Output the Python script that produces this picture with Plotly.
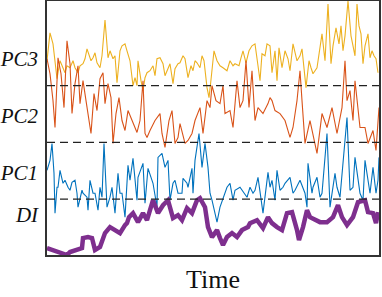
import plotly.graph_objects as go

# ---- data (time units, signal level) ----
pc3_t = [0,3,6,10,13,16,18,20,23,26,28,31,33,36,38,40,42,44,46,48,50,53,55,58,61,63,66,68,70,73,75,78,80,83,86,88,90,91,94,96,98,100,103,106,108,110,113,116,118,120,123,126,128,131,133,136,138,141,144,146,148,150,153,155,157,160,162,164,167,170,173,176,180,183,186,188,192,194,196,199,202,205,208,211,213,215,218,220,223,225,228,230,232,235,238,241,243,246,250,253,255,259,262,264,266,270,275,278,281,284,286,289,292,294,296,298,301,304,306,308,310,312,314,316,318,321,323,325,327,329,331]
pc3_v = [195,223,212,177,195,188,183,190,188,195,188,183,190,192,197,207,200,195,198,203,193,188,200,236,198,205,197,200,173,205,210,212,205,195,170,178,170,195,175,165,178,183,185,190,180,197,198,192,180,185,192,172,187,192,193,200,197,178,190,185,195,193,188,200,195,168,158,176,205,195,190,188,185,195,190,192,190,198,205,193,205,210,212,190,175,202,200,212,210,183,205,175,208,188,205,197,185,212,195,200,207,168,195,188,182,188,222,195,252,192,210,228,212,230,205,220,255,220,208,200,252,230,222,192,210,222,198,205,200,197,183]

pc2_t = [0,3,6,8,11,14,17,20,23,25,28,31,33,36,39,41,44,47,50,53,56,58,61,64,66,69,72,75,78,81,85,90,93,96,98,100,103,108,113,115,118,122,125,128,131,133,138,141,145,148,153,156,160,163,165,169,173,176,178,183,186,190,193,196,199,202,205,208,211,216,221,223,225,228,233,238,243,246,250,253,255,258,263,270,275,280,285,290,295,298,300,303,306,308,313,318,321,326,329,332]
pc2_v = [197,182,155,128,198,182,148,215,192,142,172,190,152,175,155,142,122,162,145,177,183,152,172,158,112,142,158,135,125,145,135,123,135,175,122,118,125,135,142,122,108,135,145,112,118,132,112,115,122,135,148,122,155,148,170,155,152,170,142,145,128,175,148,155,195,148,185,135,148,142,152,158,155,145,142,135,118,128,155,185,155,112,135,102,142,128,148,122,148,195,155,165,135,175,128,128,112,125,105,148]

pc1_t = [0,3,5,7,8,10,11,13,16,18,21,23,25,28,30,31,35,36,40,41,43,46,48,51,53,55,57,60,63,65,68,71,73,75,78,81,83,86,90,91,96,98,101,106,110,111,115,118,121,123,126,128,131,135,136,140,141,145,146,148,152,155,158,161,163,165,170,173,180,183,186,188,193,200,203,206,208,211,216,221,223,225,228,230,233,236,238,243,246,248,253,258,260,261,265,266,270,273,275,280,283,288,290,293,300,303,306,308,313,316,318,323,326,329,331,332]
pc1_v = [85,95,112,82,42,68,68,85,72,75,68,65,73,75,62,48,65,62,58,45,75,62,62,45,68,58,112,48,58,68,42,82,62,62,38,90,75,97,55,78,92,52,87,72,48,98,102,88,95,55,72,75,62,62,77,72,68,87,62,95,122,88,112,88,62,55,33,48,68,72,55,65,68,58,68,62,65,78,42,83,68,75,55,85,65,68,72,78,62,65,75,62,48,92,62,68,78,58,62,122,48,82,68,58,138,65,68,98,62,55,95,62,88,62,75,98]

di_t = [0,6,13,20,23,30,35,36,41,45,48,53,58,63,68,73,78,80,82,86,91,96,100,106,111,116,121,126,131,135,140,145,150,153,158,161,165,170,173,176,180,185,190,195,201,203,210,216,221,225,230,235,240,245,250,252,256,260,263,268,273,280,286,291,295,300,306,311,318,321,326,329,331]
di_v = [7,5,2,0,3,5,7,17,18,17,5,8,22,28,25,22,30,32,38,42,33,42,35,55,42,50,55,37,40,35,47,42,55,57,48,28,18,25,17,10,18,22,18,25,28,32,35,27,38,32,28,25,42,43,25,15,28,45,38,35,33,33,38,50,38,30,38,53,55,43,42,32,43]

thresholds = [170, 113, 56]
tick_vals = [197, 140, 83, 41]
tick_text = ["PC3", "PC2", "PC1", "DI"]

fig = go.Figure()
fig.add_trace(go.Scatter(x=pc3_t, y=pc3_v, mode="lines",
                         line=dict(color="#EDB120", width=1.1), name="PC3"))
fig.add_trace(go.Scatter(x=pc2_t, y=pc2_v, mode="lines",
                         line=dict(color="#D95319", width=1.1), name="PC2"))
fig.add_trace(go.Scatter(x=pc1_t, y=pc1_v, mode="lines",
                         line=dict(color="#0072BD", width=1.1), name="PC1"))
for th in thresholds:
    fig.add_hline(y=th, line=dict(color="#222222", width=1.2, dash="8px,5px"),
                  layer="above")
fig.add_trace(go.Scatter(x=di_t, y=di_v, mode="lines",
                         line=dict(color="#7E2F8E", width=4.5), name="DI"))

fig.update_layout(
    width=382, height=297,
    margin=dict(l=47, r=3, t=1, b=42),
    paper_bgcolor="white", plot_bgcolor="white",
    showlegend=False,
    font=dict(family="Liberation Serif", color="#111111"),
)
fig.update_xaxes(range=[0, 332], showgrid=False, zeroline=False, automargin=False,
                 showticklabels=False, ticks="",
                 showline=True, mirror=True, linecolor="#333333", linewidth=1.5,
                 title=dict(text="Time", font=dict(size=26, family="Liberation Serif"),
                            standoff=14))
fig.update_yaxes(range=[0, 255], showgrid=False, zeroline=False, automargin=False,
                 tickmode="array", tickvals=tick_vals, ticktext=tick_text,
                 ticks="", ticklabelstandoff=3,
                 tickfont=dict(size=21, family="Liberation Serif", style="italic"),
                 showline=True, mirror=True, linecolor="#333333", linewidth=1.5)

fig.write_html("out.html", config={"displayModeBar": False},
               post_script="document.body.style.margin='0';document.body.style.overflow='hidden';")
